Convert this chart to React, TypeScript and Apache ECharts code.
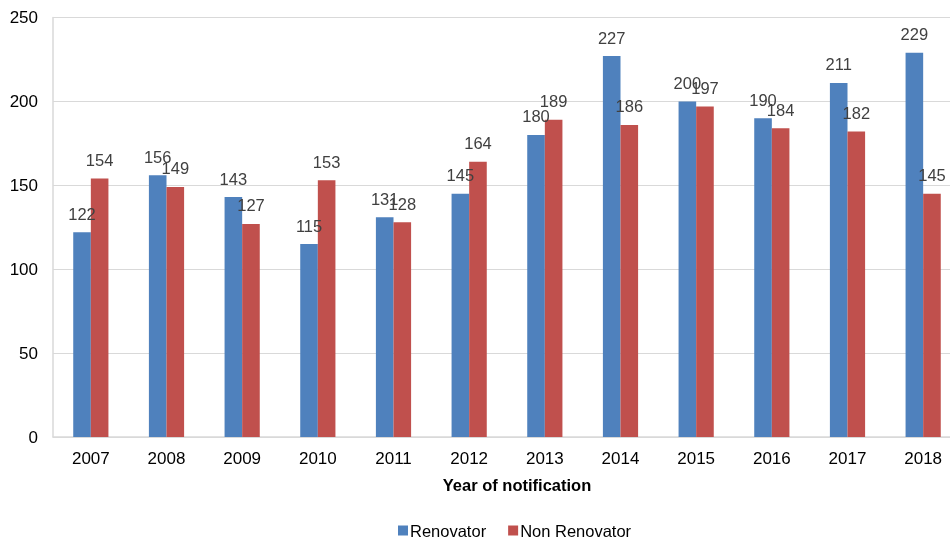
import React, { useEffect, useRef } from "react";
import * as echarts from "echarts";

const years = ["2007", "2008", "2009", "2010", "2011", "2012", "2013", "2014", "2015", "2016", "2017", "2018"];
const renovator = [122, 156, 143, 115, 131, 145, 180, 227, 200, 190, 211, 229];
const nonRenovator = [154, 149, 127, 153, 128, 164, 189, 186, 197, 184, 182, 145];
const yTicks = { min: 0, max: 250, interval: 50 };

export default function App() {
  const ref = useRef<HTMLDivElement>(null);
  useEffect(() => {
    if (!ref.current) return;
    const chart = echarts.init(ref.current, null, { renderer: "svg" });
    const font = "Arial, 'Liberation Sans', sans-serif";
    const label = {
      show: true,
      position: "top",
      distance: 10,
      color: "#404040",
      fontSize: 16.5,
      fontFamily: font,
    };
    chart.setOption({
      animation: false,
      textStyle: { fontFamily: font },
      grid: { left: 53, right: 0, top: 17.5, bottom: 108 },
      legend: {
        data: ["Renovator", "Non Renovator"],
        bottom: 1,
        left: 393,
        icon: "rect",
        itemWidth: 10,
        itemHeight: 10,
        itemGap: 22,
        textStyle: { fontSize: 16.5, color: "#000", fontFamily: font, padding: [0, 0, 0, -3] },
      },
      xAxis: {
        type: "category",
        data: years,
        axisLine: { show: true, lineStyle: { color: "#d9d9d9", width: 1.5 } },
        axisTick: { show: false },
        axisLabel: { color: "#000", fontSize: 17, margin: 13, fontFamily: font },
      },
      yAxis: {
        type: "value",
        min: yTicks.min,
        max: yTicks.max,
        interval: yTicks.interval,
        axisLine: { show: true, lineStyle: { color: "#d9d9d9", width: 1.5 } },
        axisTick: { show: false },
        splitLine: { lineStyle: { color: "#d9d9d9", width: 1.2 } },
        axisLabel: { color: "#000", fontSize: 17, margin: 15, fontFamily: font },
      },
      graphic: [
        {
          type: "text",
          x: 517,
          y: 485,
          style: {
            text: "Year of notification",
            fontSize: 16.5,
            fontWeight: "bold",
            fill: "#000",
            fontFamily: font,
            textAlign: "center",
            textVerticalAlign: "middle",
          },
        },
      ],
      series: [
        {
          name: "Renovator",
          type: "bar",
          data: renovator,
          barWidth: 17.6,
          barGap: "0%",
          itemStyle: { color: "#4f81bd" },
          label,
        },
        {
          name: "Non Renovator",
          type: "bar",
          data: nonRenovator,
          barWidth: 17.6,
          barGap: "0%",
          itemStyle: { color: "#c0504d" },
          label,
        },
      ],
    });
    return () => chart.dispose();
  }, []);
  return (
    <div style={{ position: "fixed", left: 0, top: 0, width: 950, height: 545, overflow: "hidden" }}>
      <div ref={ref} style={{ width: 961, height: 545 }} />
    </div>
  );
}
